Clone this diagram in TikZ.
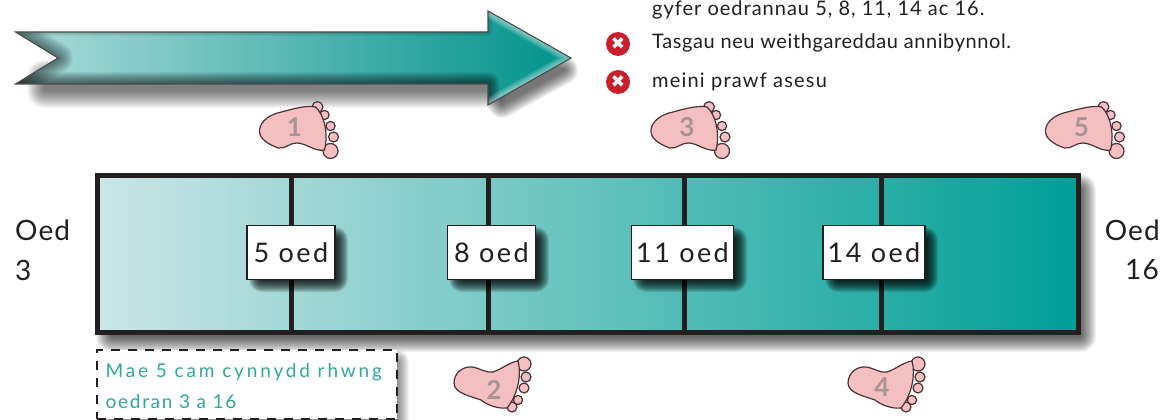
\documentclass[tikz,border=0pt]{standalone}
\usepackage{fontspec}
\setmainfont{Lato}
\newfontfamily\symfont{DejaVu Sans}
\usetikzlibrary{shadings,fadings,calc}
\definecolor{inkc}{HTML}{231F20}
\definecolor{tealdark}{HTML}{009F96}
\definecolor{teallight}{HTML}{CBE6E6}
\definecolor{tealtext}{HTML}{2FA89C}
\definecolor{footpink}{HTML}{F4BFC0}
\definecolor{footline}{HTML}{4A3236}
\definecolor{numgrey}{HTML}{A89396}
\definecolor{crossred}{HTML}{C8202A}
\newcommand{\lsfont}[2]{\fontsize{#1}{#1}\selectfont\addfontfeature{LetterSpace=#2}}
% soft shadow: a shape stroked with growing widths at low opacity
\newcommand{\blurfill}[3]{%
  \foreach \w in {2,4,...,#2}{
    \begin{scope}[transparency group,opacity=#1]
      \draw[black,fill=black,line width=\w pt,line join=round] #3;
    \end{scope}}
}
% soft glow along an open path (stays inside a clip)
\newcommand{\blurline}[4]{%
  \foreach \w in {2,4,...,#3}
    \draw[#1,opacity=#2,line width=\w pt,line join=round] #4;
}
\tikzset{
  x=1pt,y=-1pt,
  agebox/.style={draw=inkc,line width=1.5pt,fill=white,minimum height=54pt,inner sep=0pt,font=\lsfont{27}{9},text=inkc},
  agelabel/.style={font=\lsfont{28}{4},text=inkc,inner sep=0pt},
  bullettext/.style={text=inkc,anchor=west,inner sep=0pt},
  crossmark/.style={circle,fill=crossred,minimum size=24pt,inner sep=0pt,text=white,font=\symfont\fontsize{17}{17}\selectfont},
  divider/.style={draw=inkc,line width=5pt},
  footnum/.style={text=numgrey,font=\fontsize{26}{26}\selectfont\bfseries,inner sep=0pt},
  footedge/.style={footline,line width=1.2pt,fill=footpink},
}
\newcommand{\footshape}{%
  \foreach \tx/\ty/\tr in {19/-22/5.4,26/-14/4.6,32/-3/4.6,35/8/5,32/22/7.5}
    \draw[footedge] (\tx,\ty) circle[radius=\tr];
  \draw[footedge] (-39,1) .. controls (-38,-9) and (-27,-15) .. (-17,-17)
     .. controls (-6,-20) and (8,-24) .. (17,-22)
     .. controls (26,-14) and (30,5) .. (26,21)
     .. controls (16,23) and (8,14) .. (-2,14)
     .. controls (-9,14) and (-13,20) .. (-20,19)
     .. controls (-29,16) and (-40,10) .. (-39,1) -- cycle;
}
\newcommand{\footshapeup}{%
  \foreach \tx/\ty/\tr in {32/-22/7,34/-9/5,32/2/5,26/14/4.6,20/21/5}
    \draw[footedge] (\tx,\ty) circle[radius=\tr];
  \draw[footedge] (-38,-3) .. controls (-38,-13) and (-29,-20) .. (-20,-19)
     .. controls (-12,-18) and (-7,-13) .. (1,-14)
     .. controls (10,-17) and (18,-24) .. (26,-25)
     .. controls (30,-10) and (25,10) .. (15,22)
     .. controls (6,23) and (-5,19) .. (-11,14)
     .. controls (-22,10) and (-38,7) .. (-38,-3) -- cycle;
}
\begin{document}
\begin{tikzpicture}
\useasboundingbox (0,0) rectangle (1160,420);
\fill[white] (0,0) rectangle (1160,420);
% top arrow
\blurfill{.035}{36}{(45,78) rectangle (490,90)}
\blurfill{.05}{28}{(502,52) -- (564,70) -- (502,104) -- cycle}
\def\arrowpath{(15.5,32) -- (488,32) -- (488,11) -- (571,58) -- (488,105) -- (488,84) -- (15.5,84) -- (58,58) -- cycle}
\begin{scope}
  \clip \arrowpath;
  \shade[left color=teallight!85!tealdark,right color=tealdark!92!black] (15,0) rectangle (571,120);
  \blurline{black}{.06}{24}{(15.5,84) -- (488,84) -- (488,105)}
  \blurline{black}{.04}{30}{(15.5,32) -- (58,58) -- (15.5,84)}
  \blurline{black}{.05}{8}{(15.5,32) -- (488,32) -- (488,11)}
  \blurline{white}{.09}{14}{(488,11) -- (571,58) -- (488,105)}
\end{scope}
\draw[black!70,line width=1.1pt,line join=miter] \arrowpath;
% right-hand list
\node[bullettext,font=\lsfont{20}{5}] (t0) at (652,10) {gyfer oedrannau 5, 8, 11, 14 ac 16.};
\node[crossmark] (x1) at (618,44) {✖};
\node[bullettext,font=\lsfont{20}{3}] (t1) at (652,43) {Tasgau neu weithgareddau annibynnol.};
\node[crossmark] (x2) at (618,82) {✖};
\node[bullettext,font=\lsfont{20}{6}] (t2) at (652,82) {meini prawf asesu};
% bar
\blurfill{.05}{32}{(112,190) rectangle (1080,336)}
\shade[left color=teallight,right color=tealdark] (97,175.5) rectangle (1079,332.5);
\coordinate (d1t) at (291.5,176); \coordinate (d1b) at (291.5,332);
\coordinate (d2t) at (488,176); \coordinate (d2b) at (488,332);
\coordinate (d3t) at (684,176); \coordinate (d3b) at (684,332);
\coordinate (d4t) at (881,176); \coordinate (d4b) at (881,332);
\draw[divider] (d1t) -- (d1b);
\draw[divider] (d2t) -- (d2b);
\draw[divider] (d3t) -- (d3b);
\draw[divider] (d4t) -- (d4b);
\draw[draw=inkc,line width=5pt] (97.5,175.5) rectangle (1078.5,332.5);
\begin{scope}
  \clip (99,178) rectangle (1076,330);
  \blurfill{.11}{26}{(262,240) rectangle (335,279)}
  \blurfill{.11}{26}{(462,240) rectangle (536,279)}
  \blurfill{.11}{26}{(646,240) rectangle (734,279)}
  \blurfill{.11}{26}{(838,240) rectangle (925,279)}
\end{scope}
\node[agebox,minimum width=88pt] (a5) at (291,252.5) {5 oed};
\node[agebox,minimum width=88pt] (a8) at (491.5,252.5) {8 oed};
\node[agebox,minimum width=102pt] (a11) at (682.5,252.5) {11 oed};
\node[agebox,minimum width=102pt] (a14) at (874,252.5) {14 oed};
\node[agelabel,anchor=west] (l3a) at (15,230) {Oed};
\node[agelabel,anchor=west] (l3b) at (15,270) {3};
\node[agelabel,anchor=east] (l16a) at (1160,230) {Oed};
\node[agelabel,anchor=east] (l16b) at (1159,270) {16};
% note
\blurfill{.045}{24}{(110,362) rectangle (397,425)}
\node[draw=inkc,dash pattern=on 9pt off 8pt,line width=2.4pt,fill=white,minimum width=300pt,minimum height=69pt,anchor=north west,inner sep=0pt] (note) at (96,349) {};
\node[anchor=west,inner sep=0pt,text=tealtext,font=\lsfont{19}{15}] (n1) at (105.5,372) {Mae 5 cam cynnydd rhwng};
\node[anchor=west,inner sep=0pt,text=tealtext,font=\lsfont{19}{9}] (n2) at (105.5,402) {oedran 3 a 16};
% feet
\begin{scope}[shift={(298.5,129)}] \footshape \node[footnum] (f1) at (-4,-2) {1}; \end{scope}
\begin{scope}[shift={(690,129)}] \footshape \node[footnum] (f3) at (-3,-2) {3}; \end{scope}
\begin{scope}[shift={(1084.5,129)}] \footshape \node[footnum] (f5) at (-3,-2) {5}; \end{scope}
\begin{scope}[shift={(492,386)}] \footshapeup \node[footnum] (f2) at (2,4) {2}; \end{scope}
\begin{scope}[shift={(886,386)}] \footshapeup \node[footnum] (f4) at (-4,1) {4}; \end{scope}
\end{tikzpicture}
\end{document}
